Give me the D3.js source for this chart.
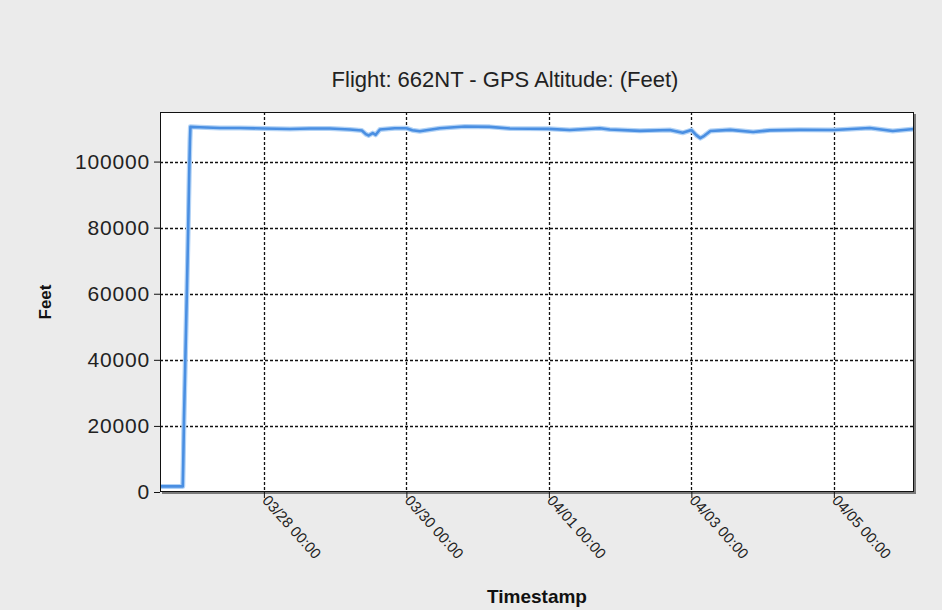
<!DOCTYPE html>
<html>
<head>
<meta charset="utf-8">
<script src="https://cdn.jsdelivr.net/npm/d3@7"></script>
<style>
    body { margin: 0; background: #ebebeb; }
    svg { display: block; font-family: "Liberation Sans", Arial, sans-serif; }
</style>
</head>
<body>
<div id="altitude-chart"></div>
<script>
// Données
const timestamps = [
    '03/26 13:00', '03/26 20:40', '03/26 20:50', '03/26 21:05', '03/26 21:35',
    '03/26 22:05', '03/26 22:30', '03/26 22:50', '03/26 23:05', '03/26 23:15',
    '03/27 02:30', '03/27 09:10', '03/27 16:00', '03/28 00:00', '03/28 08:45',
    '03/28 15:30', '03/28 22:15', '03/29 05:00', '03/29 09:00', '03/29 10:20',
    '03/29 11:20', '03/29 12:40', '03/29 13:40', '03/29 15:05', '03/29 20:05',
    '03/30 00:00', '03/30 02:00', '03/30 04:30', '03/30 11:15', '03/30 19:40',
    '03/31 04:05', '03/31 10:50', '04/01 00:00', '04/01 07:00', '04/01 17:10',
    '04/01 20:30', '04/02 06:40', '04/02 16:45', '04/02 21:05', '04/03 00:00',
    '04/03 01:40', '04/03 03:00', '04/03 04:20', '04/03 06:25', '04/03 13:05',
    '04/03 20:50', '04/04 02:25', '04/04 12:30', '04/05 00:00', '04/05 12:05',
    '04/05 19:50', '04/06 03:00'
];
const altitudes = [
    1700, 1700, 9000, 22000, 42000,
    62000, 80000, 96000, 106000, 110500,
    110400, 110150, 110150, 110000, 109850,
    110000, 110000, 109700, 109400, 108300,
    107900, 108600, 108100, 109700, 110100,
    110100, 109500, 109200, 110100, 110600,
    110500, 110000, 109900, 109550, 110100,
    109700, 109300, 109550, 108700, 109550,
    108000, 107100, 107800, 109250, 109600,
    108950, 109450, 109600, 109550, 110150,
    109250, 109850
];
const xTickLabels = ['03/28 00:00', '03/30 00:00', '04/01 00:00', '04/03 00:00', '04/05 00:00'];
const yTicks = [0, 20000, 40000, 60000, 80000, 100000];

const width = 942, height = 610;
const plot = { left: 160, right: 914, top: 112, bottom: 492 };
const year = '2016/';
const parse = d3.timeParse('%Y/%m/%d %H:%M');

const data = timestamps.map((t, i) => ({ date: parse(year + t), value: altitudes[i] }));

const svg = d3.select('#altitude-chart').append('svg')
    .attr('width', width)
    .attr('height', height);

svg.append('rect')
    .attr('width', width)
    .attr('height', height)
    .attr('fill', '#ebebeb');

const x = d3.scaleTime()
    .domain([parse(year + '03/26 13:00'), parse(year + '04/06 03:00')])
    .range([plot.left, plot.right]);

const y = d3.scaleLinear()
    .domain([0, 115000])
    .range([plot.bottom, plot.top]);

// Ombre + zone de tracé
svg.append('rect')
    .attr('x', plot.left + 2)
    .attr('y', plot.top + 2)
    .attr('width', plot.right - plot.left)
    .attr('height', plot.bottom - plot.top)
    .attr('fill', '#7a7a7a');

svg.append('rect')
    .attr('x', plot.left)
    .attr('y', plot.top)
    .attr('width', plot.right - plot.left)
    .attr('height', plot.bottom - plot.top)
    .attr('fill', '#fff');

// Grille
const xTickDates = xTickLabels.map(t => parse(year + t));

svg.append('g')
    .selectAll('line')
    .data(xTickDates)
    .enter().append('line')
    .attr('x1', d => Math.round(x(d)) + 0.5)
    .attr('x2', d => Math.round(x(d)) + 0.5)
    .attr('y1', plot.top)
    .attr('y2', plot.bottom)
    .attr('stroke', '#111')
    .attr('stroke-width', 1.3)
    .attr('stroke-dasharray', '3,2');

svg.append('g')
    .selectAll('line')
    .data(yTicks.filter(d => d > 0))
    .enter().append('line')
    .attr('x1', plot.left)
    .attr('x2', plot.right)
    .attr('y1', d => Math.round(y(d)) + 0.5)
    .attr('y2', d => Math.round(y(d)) + 0.5)
    .attr('stroke', '#111')
    .attr('stroke-width', 1.3)
    .attr('stroke-dasharray', '3,2');

// Série
const line = d3.line()
    .x(d => x(d.date))
    .y(d => y(d.value));

svg.append('path')
    .datum(data)
    .attr('fill', 'none')
    .attr('stroke', '#b3d3f6')
    .attr('stroke-width', 5)
    .attr('stroke-linejoin', 'round')
    .attr('d', line);

svg.append('path')
    .datum(data)
    .attr('fill', 'none')
    .attr('stroke', '#4a8fe2')
    .attr('stroke-width', 2.6)
    .attr('stroke-linejoin', 'round')
    .attr('d', line);

// Cadre
svg.append('rect')
    .attr('x', plot.left + 0.5)
    .attr('y', plot.top + 0.5)
    .attr('width', plot.right - plot.left - 1)
    .attr('height', plot.bottom - plot.top - 1)
    .attr('fill', 'none')
    .attr('stroke', '#111');

// Axes
const yAxis = svg.append('g')
    .attr('transform', `translate(${plot.left},0)`)
    .call(d3.axisLeft(y).tickValues(yTicks).tickSize(6).tickPadding(4).tickFormat(d3.format('d')));

yAxis.select('.domain').remove();
yAxis.selectAll('line').attr('stroke', '#111');
yAxis.selectAll('text')
    .attr('font-size', 21)
    .attr('letter-spacing', 0.8)
    .attr('fill', '#222')
    .attr('font-family', '"Liberation Sans", Arial, sans-serif');

const xAxis = svg.append('g')
    .attr('transform', `translate(0,${plot.bottom})`)
    .call(d3.axisBottom(x).tickValues(xTickDates).tickSize(6).tickFormat(d3.timeFormat('%m/%d %H:%M')));

xAxis.select('.domain').remove();
xAxis.selectAll('line').attr('stroke', '#111');
xAxis.selectAll('text')
    .attr('font-size', 15)
    .attr('fill', '#222')
    .attr('font-family', '"Liberation Sans", Arial, sans-serif')
    .attr('text-anchor', 'start')
    .attr('dy', null)
    .attr('y', 0)
    .attr('transform', 'translate(-3,9) rotate(48)');

// Titres
svg.append('text')
    .attr('x', 505)
    .attr('y', 87)
    .attr('text-anchor', 'middle')
    .attr('font-size', 22)
    .attr('fill', '#222')
    .text('Flight: 662NT - GPS Altitude: (Feet)');

svg.append('text')
    .attr('x', 537)
    .attr('y', 603)
    .attr('text-anchor', 'middle')
    .attr('font-size', 19)
    .attr('font-weight', 'bold')
    .attr('fill', '#111')
    .text('Timestamp');

svg.append('text')
    .attr('transform', `translate(51,${(plot.top + plot.bottom) / 2}) rotate(-90)`)
    .attr('text-anchor', 'middle')
    .attr('font-size', 17)
    .attr('font-weight', 'bold')
    .attr('fill', '#111')
    .text('Feet');
</script>
</body>
</html>
